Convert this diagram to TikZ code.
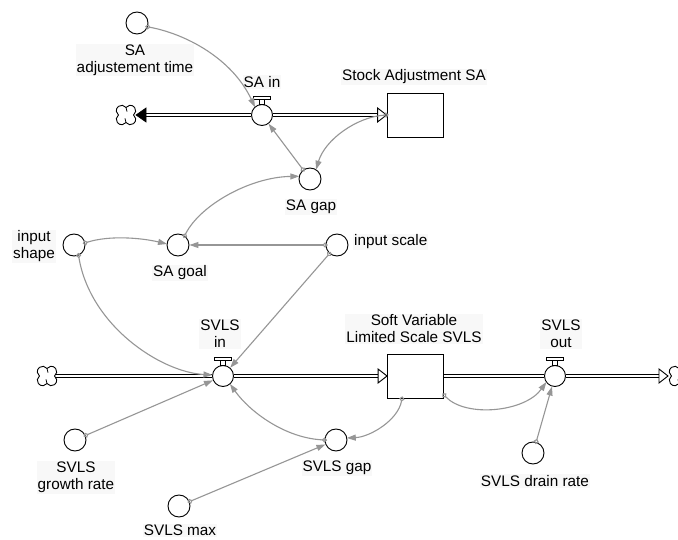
\documentclass[tikz,border=0pt]{standalone}
\usepackage{fontspec}
\setmainfont{Liberation Sans}
\usetikzlibrary{arrows.meta,calc}
\definecolor{conn}{RGB}{150,150,150}
\definecolor{lblbg}{RGB}{248,248,248}

\tikzset{
  aux/.style={circle, draw, line width=0.9pt, fill=white, minimum size=22pt, inner sep=0pt},
  valve/.style={circle, draw, line width=0.9pt, fill=white, minimum size=21pt, inner sep=0pt},
  stock/.style={rectangle, draw, line width=0.9pt, fill=white, minimum width=56pt, minimum height=44pt, inner sep=0pt},
  lbl/.style={font=\fontsize{15.3}{17}\selectfont, align=center, inner sep=1pt, fill=lblbg},
  pipe/.style={draw, line width=0.9pt, double=white, double distance=1.7pt},
  link/.style={draw=conn, line width=1.1pt, shorten <=-2pt,
    {Circle[open,length=5pt,width=5pt]}-{Triangle[length=9pt,width=6pt]}},
  cloud/.pic={
    \draw[line width=0.9pt, fill=white] (0,-7)
      arc[start angle=-36.87, end angle=-233.13, radius=5]
      arc[start angle=233.13, end angle=36.87, radius=5]
      arc[start angle=143.13, end angle=-53.13, radius=5]
      arc[start angle=53.13, end angle=-143.13, radius=5] -- cycle;
    \draw[line width=0.8pt] (0,-7) arc[start angle=-36.87, end angle=10, radius=5];
    \draw[line width=0.8pt] (0,7) arc[start angle=143.13, end angle=190, radius=5];
  }
}

\begin{document}
\begin{tikzpicture}[x=1pt,y=-1pt]
\useasboundingbox[fill=white] (0,0) rectangle (678,540);

% stocks
\node[stock] (stockA) at (415,115) {};
\node[stock] (stockB) at (415.5,376) {};

% flow valves
\node[valve] (sain) at (262,115) {};
\node[valve] (svlsin) at (223,376) {};
\node[valve] (svlsout) at (555,376) {};

% auxiliaries
\node[aux] (adj) at (137,23) {};
\node[aux] (sagap) at (310,179) {};
\node[aux] (inshape) at (74,245) {};
\node[aux] (sagoal) at (178,245) {};
\node[aux] (inscale) at (337,245) {};
\node[aux] (growth) at (75,440) {};
\node[aux] (svlsgap) at (336,440) {};
\node[aux] (smax) at (179,506) {};
\node[aux] (drain) at (533,453) {};

% sources and sinks
\coordinate (cloudA) at (126,115);
\coordinate (cloudB) at (47,376);
\coordinate (cloudC) at (679,376);
\pic[scale=1.08] at (cloudA) {cloud};
\pic[scale=1.08] at (cloudB) {cloud};
\pic[scale=1.08] at (cloudC) {cloud};

% labels
\node[lbl] (l-adj) at (135,60) {SA\\adjustement time};
\node[lbl] (l-sain) at (262,82) {SA in};
\node[lbl] (l-stockA) at (414,77) {Stock Adjustment SA};
\node[lbl] (l-sagap) at (311,207) {SA gap};
\node[lbl] (l-inshape) at (34,246.5) {input\\shape};
\node[lbl] (l-sagoal) at (180,273) {SA goal};
\node[lbl, anchor=west] (l-inscale) at (353,242) {input scale};
\node[lbl] (l-svlsin) at (220,334) {SVLS\\in};
\node[lbl] (l-stockB) at (414,329) {Soft Variable\\Limited Scale SVLS};
\node[lbl] (l-svlsout) at (561,334) {SVLS\\out};
\node[lbl] (l-growth) at (76,477.5) {SVLS\\growth rate};
\node[lbl] (l-svlsgap) at (337,468) {SVLS gap};
\node[lbl] (l-smax) at (180,530.5) {SVLS max};
\node[lbl] (l-drain) at (535,481) {SVLS drain rate};

% flow pipes
\draw[pipe] ($(cloudA)+(20,0)$) -- (sain.west);
\draw[pipe] (sain.east) -- ($(stockA.west)+(-9,0)$);
\draw[pipe] ($(cloudB)+(9,0)$) -- (svlsin.west);
\draw[pipe] (svlsin.east) -- ($(stockB.west)+(-9,0)$);
\draw[pipe] (stockB.east) -- (svlsout.west);
\draw[pipe] (svlsout.east) -- ($(cloudC)+(-20,0)$);

% pipe heads
\filldraw[line width=0.6pt] ($(cloudA)+(10,0)$) -- ++(10,-7) -- ++(0,14) -- cycle;
\draw[line width=0.9pt, fill=white] (stockA.west) -- ++(-9,-7) -- ++(0,14) -- cycle;
\draw[line width=0.9pt, fill=white] (stockB.west) -- ++(-9,-7) -- ++(0,14) -- cycle;
\draw[line width=0.9pt, fill=white] ($(cloudC)+(-11,0)$) -- ++(-9,-7) -- ++(0,14) -- cycle;

% valve handles
\foreach \v in {sain,svlsin,svlsout} {
  \draw[line width=0.9pt, fill=white] ($(\v)+(-2.5,-10.5)$) rectangle ($(\v)+(2.5,-15.5)$);
  \draw[line width=0.9pt, fill=white] ($(\v)+(-8.5,-15.5)$) rectangle ($(\v)+(8.5,-19)$);
}

% information links
\draw[link] ($(adj)+(10.3,3.8)$) .. controls +(38,7) and +(-23,-49) .. ($(sain)+(-7,-7.8)$);
\draw[link] (sagap) -- (sain);
\draw[link] (stockA.west) .. controls +(-30,2) and +(9,-30) .. ($(sagap)+(6,-9.3)$);
\draw[link] ($(sagoal)+(6.5,-8.9)$) .. controls +(15.5,-31) and +(-49,0.7) .. ($(sagap)+(-10.7,-2.7)$);
\draw[link] ($(inshape)+(10.8,-2)$) .. controls +(25,-8) and +(-25,-6) .. ($(sagoal)+(-11,-1)$);
\draw[link] (inscale) -- (sagoal);
\draw[link] ($(inshape)+(4.5,10)$) .. controls +(11.5,70) and +(-52.5,-3) .. ($(svlsin)+(-10.5,-1)$);
\draw[link] (inscale) -- (svlsin);
\draw[link] (growth) -- (svlsin);
\draw[link] ($(svlsgap)+(-11,0)$) .. controls +(-40,-2) and +(20,28) .. ($(svlsin)+(6.9,7.9)$);
\draw[link] ($(stockB.south)+(-13.5,0)$) .. controls +(-4,22) and +(23,-1) .. ($(svlsgap)+(10.8,-2)$);
\draw[link] (smax) -- (svlsgap);
\draw[link] ($(stockB.east)+(0,19)$) .. controls +(22,23) and +(-21.4,30) .. ($(svlsout)+(-8.6,6)$);
\draw[link] (drain) -- (svlsout);
\end{tikzpicture}
\end{document}
